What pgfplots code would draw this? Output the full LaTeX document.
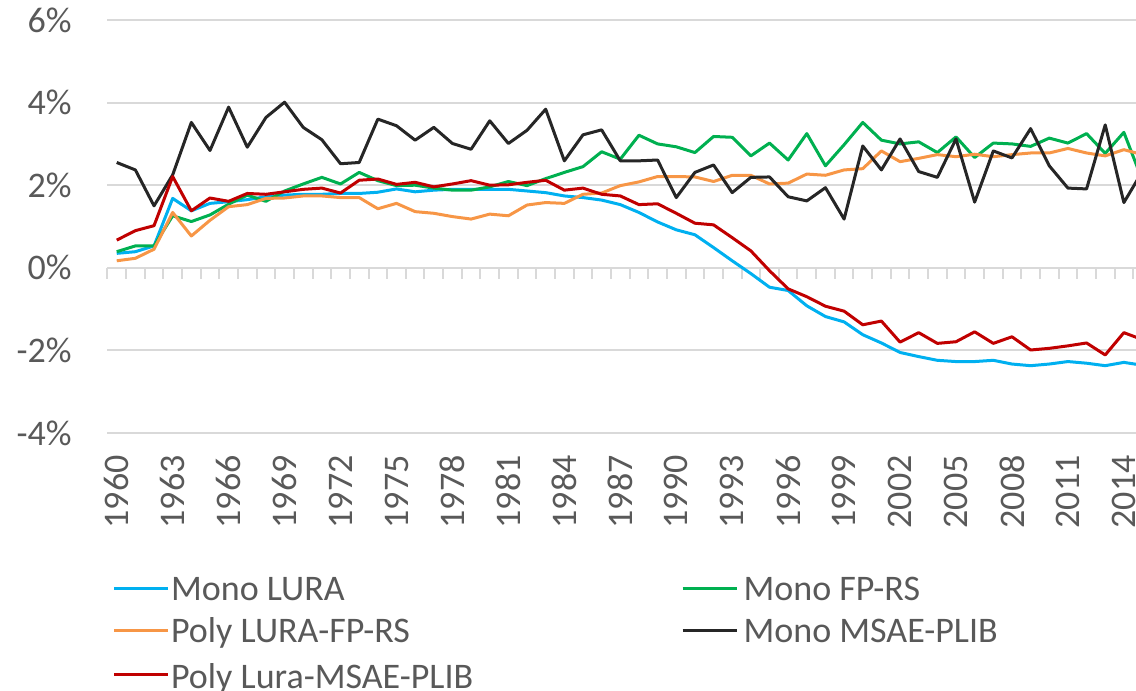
\documentclass[border=0pt]{standalone}
\usepackage{pgfplots}
\usepackage{pgfplotstable}
\pgfplotsset{compat=1.18}
\usepackage{fontspec}
\setmainfont{Carlito}
\definecolor{textgray}{HTML}{595959}
\definecolor{gridgray}{HTML}{D9D9D9}
\definecolor{cblue}{HTML}{00B0F0}
\definecolor{cgreen}{HTML}{00B050}
\definecolor{corange}{HTML}{F79646}
\definecolor{cblack}{HTML}{262626}
\definecolor{cred}{HTML}{C00000}
\pgfplotstableread{
year lura fprs polyfp msae polymsae
1960 0.35 0.39 0.17 2.55 0.67
1961 0.39 0.53 0.23 2.37 0.90
1962 0.53 0.53 0.45 1.50 1.02
1963 1.68 1.26 1.34 2.25 2.21
1964 1.38 1.12 0.77 3.52 1.38
1965 1.56 1.28 1.15 2.84 1.69
1966 1.60 1.54 1.48 3.89 1.61
1967 1.65 1.76 1.53 2.92 1.80
1968 1.72 1.61 1.68 3.64 1.78
1969 1.76 1.86 1.69 4.01 1.84
1970 1.78 2.03 1.74 3.40 1.90
1971 1.78 2.19 1.74 3.10 1.93
1972 1.80 2.03 1.70 2.52 1.81
1973 1.80 2.31 1.70 2.55 2.12
1974 1.83 2.11 1.43 3.60 2.15
1975 1.91 1.99 1.56 3.44 2.02
1976 1.84 2.00 1.36 3.09 2.07
1977 1.88 1.93 1.32 3.40 1.96
1978 1.90 1.88 1.24 3.01 2.03
1979 1.90 1.88 1.18 2.87 2.11
1980 1.90 1.96 1.30 3.56 2.00
1981 1.90 2.09 1.26 3.01 2.01
1982 1.86 1.99 1.52 3.33 2.07
1983 1.82 2.16 1.58 3.84 2.12
1984 1.74 2.31 1.56 2.59 1.88
1985 1.70 2.45 1.78 3.22 1.93
1986 1.64 2.81 1.81 3.34 1.78
1987 1.53 2.63 1.99 2.59 1.74
1988 1.34 3.21 2.08 2.59 1.53
1989 1.11 3.00 2.21 2.61 1.55
1990 0.92 2.93 2.21 1.70 1.32
1991 0.80 2.79 2.20 2.31 1.08
1992 0.49 3.18 2.09 2.49 1.04
1993 0.17 3.16 2.24 1.82 0.73
1994 -0.14 2.71 2.24 2.19 0.41
1995 -0.47 3.02 2.03 2.20 -0.07
1996 -0.55 2.61 2.05 1.72 -0.51
1997 -0.92 3.25 2.27 1.62 -0.70
1998 -1.18 2.47 2.24 1.94 -0.93
1999 -1.31 2.98 2.37 1.18 -1.05
2000 -1.62 3.52 2.40 2.95 -1.38
2001 -1.82 3.09 2.83 2.37 -1.29
2002 -2.05 3.00 2.57 3.12 -1.80
2003 -2.15 3.05 2.65 2.33 -1.57
2004 -2.24 2.79 2.74 2.19 -1.83
2005 -2.27 3.17 2.69 3.12 -1.79
2006 -2.27 2.67 2.75 1.59 -1.55
2007 -2.24 3.02 2.69 2.83 -1.83
2008 -2.33 3.00 2.74 2.66 -1.67
2009 -2.37 2.94 2.78 3.37 -1.99
2010 -2.33 3.14 2.78 2.47 -1.95
2011 -2.27 3.02 2.89 1.93 -1.89
2012 -2.31 3.25 2.78 1.91 -1.82
2013 -2.37 2.77 2.71 3.46 -2.11
2014 -2.29 3.28 2.86 1.58 -1.57
2015 -2.36 2.11 2.74 2.34 -1.74
}\datatable
\newcommand{\LE}[2]{\makebox[#1][l]{\rule[-4.5pt]{0pt}{17.5pt}\hspace{0.8pt}#2}}
\newcommand{\LEL}[2]{\makebox[#1][l]{\rule[-4.5pt]{0pt}{19.5pt}\hspace{0.8pt}#2}}
\begin{document}
\begin{tikzpicture}[font=\fontsize{18}{22}\selectfont]
\useasboundingbox (-53.7pt,-129pt) rectangle (514.3pt,216.5pt);
% background axis: x axis line at 0 with tick marks
\begin{axis}[
  at={(0,0)}, anchor=south west, scale only axis,
  width=514.3pt, height=206.5pt,
  xmin=1959.5, xmax=2014.65, ymin=-4, ymax=6,
  axis x line*=middle, axis y line=none,
  x axis line style={draw=gridgray, line width=1pt},
  xtick={1959.5,1960.5,...,2014.5},
  xticklabels={},
  xtick align=outside,
  major tick length=5.5pt,
  x tick style={draw=gridgray, line width=1pt},
]
\end{axis}
\begin{axis}[
  at={(0,0)}, anchor=south west, scale only axis,
  width=514.3pt, height=206.5pt,
  xmin=1959.5, xmax=2014.65, ymin=-4, ymax=6,
  axis line style={draw=none},
  tick style={draw=none},
  major tick length=0pt,
  ytick={-4,-2,0,2,4,6},
  yticklabels={-4\%,-2\%,0\%,2\%,4\%,6\%},
  yticklabel style={anchor=east, inner sep=0pt, xshift=-17.7pt, text=textgray},
  xtick={1960,1963,...,2014},
  xticklabels={1960,1963,1966,1969,1972,1975,1978,1981,1984,1987,1990,1993,1996,1999,2002,2005,2008,2011,2014},
  xticklabel style={rotate=90, anchor=east, inner xsep=12.5pt, inner ysep=0pt, text=textgray, xshift=1.5pt},
  ymajorgrids,
  grid style={draw=gridgray, line width=1pt},
  every axis plot/.append style={line width=1.5pt, line join=round, mark=none},
  legend columns=2,
  legend cell align=left,
  legend style={draw=none, fill=none, at={(0.00544,-0.3414)}, anchor=north west,
    column sep=0pt, row sep=6.5pt, inner sep=0pt, outer sep=0pt,
    text=textgray, font=\fontsize{18}{22}\selectfont,
    nodes={inner sep=0pt, outer sep=0pt}},
  legend image code/.code={\draw[#1, line width=1.25pt] (0pt,0pt) -- (27pt,0pt);},
]
\addplot[cblue] table[x=year, y=lura] {\datatable};
\addlegendentry{\LE{256pt}{Mono LURA}}
\addplot[cgreen] table[x=year, y=fprs] {\datatable};
\addlegendentry{\LE{200pt}{\hspace{2pt}Mono FP-RS}}
\addplot[corange] table[x=year, y=polyfp] {\datatable};
\addlegendentry{\LE{256pt}{Poly LURA-FP-RS}}
\addplot[cblack] table[x=year, y=msae] {\datatable};
\addlegendentry{\LE{200pt}{\hspace{2pt}Mono MSAE-PLIB}}
\addplot[cred] table[x=year, y=polymsae] {\datatable};
\addlegendentry{\LEL{256pt}{Poly Lura-MSAE-PLIB}}
\end{axis}
\end{tikzpicture}
\end{document}
